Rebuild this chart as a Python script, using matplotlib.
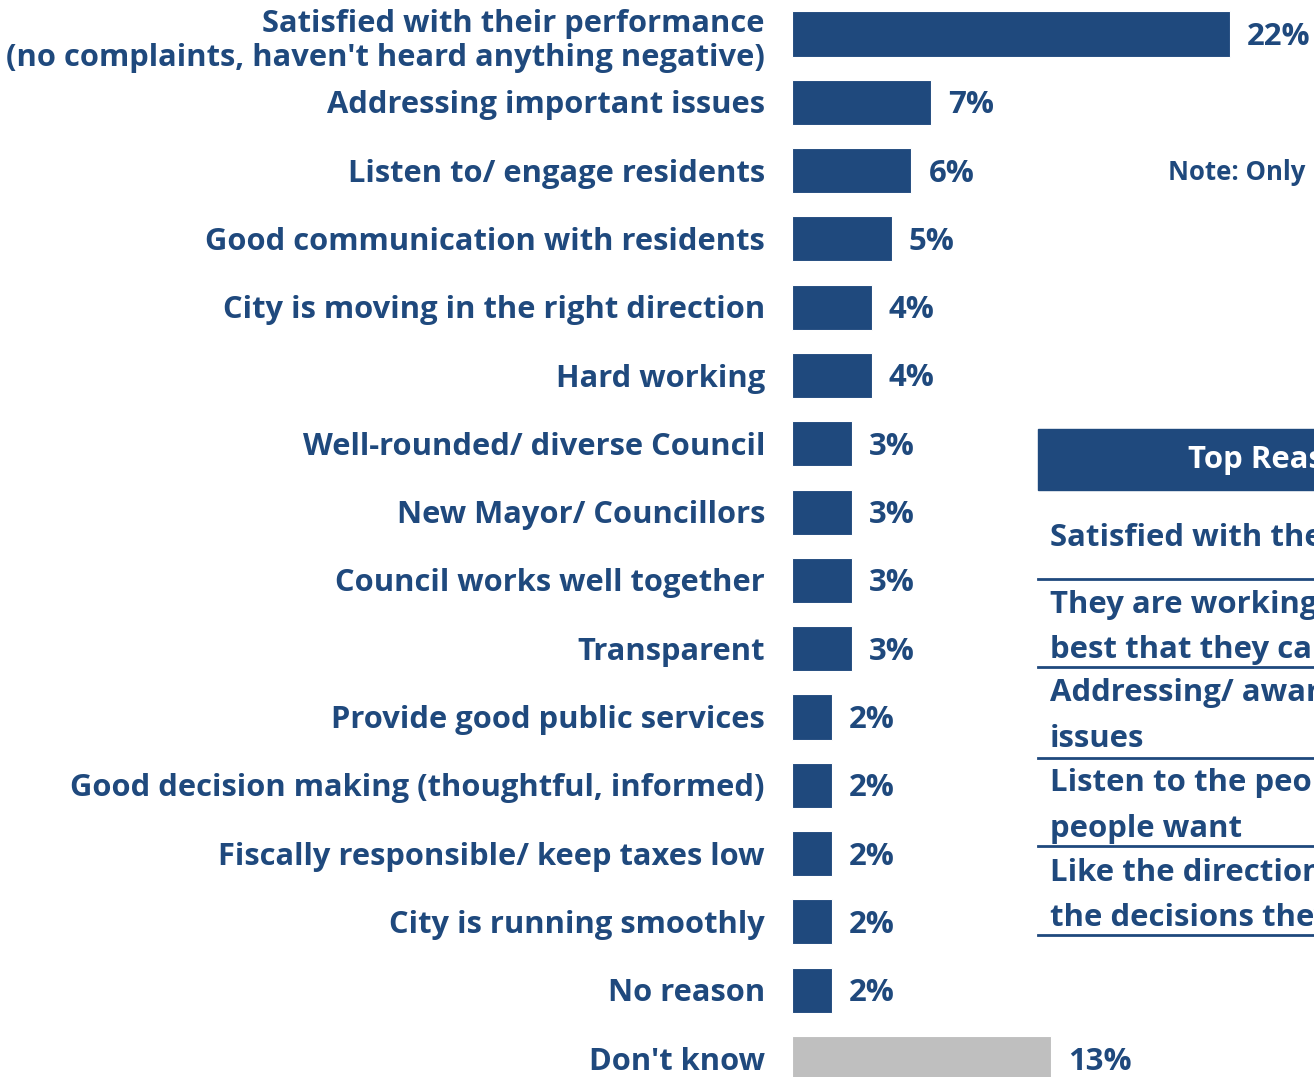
import matplotlib.pyplot as plt
from matplotlib.patches import Rectangle

categories = [
    "Satisfied with their performance\n(no complaints, haven't heard anything negative)",
    "Addressing important issues",
    "Listen to/ engage residents",
    "Good communication with residents",
    "City is moving in the right direction",
    "Hard working",
    "Well-rounded/ diverse Council",
    "New Mayor/ Councillors",
    "Council works well together",
    "Transparent",
    "Provide good public services",
    "Good decision making (thoughtful, informed)",
    "Fiscally responsible/ keep taxes low",
    "City is running smoothly",
    "No reason",
    "Don't know",
]
values = [22, 7, 6, 5, 4, 4, 3, 3, 3, 3, 2, 2, 2, 2, 2, 13]

table_title = "Top Reasons for Satisfaction"
table_rows = [
    ["Satisfied with their performance"],
    ["They are working hard/ doing the", "best that they can"],
    ["Addressing/ aware of important", "issues"],
    ["Listen to the people/ do what", "people want"],
    ["Like the direction/ agree with", "the decisions they make"],
]
note_text = "Note: Only mentions of 2% or more shown"

BLUE = "#1F497D"
GREY = "#BFBFBF"
FONT = "Open Sans"
FS = 22.4

W, H = 1314, 1077
fig = plt.figure(figsize=(W / 100, H / 100), dpi=100)

# bar axes: x=0 at pixel 792, ~19.9 px per percent, rows ~68.3 px apart
row_px = 68.3
x_px = 19.9
left = 792
xmax = 26
n = len(categories)
top_px = 34 - row_px / 2
ax = fig.add_axes([left / W, 1 - (top_px + n * row_px) / H,
                   xmax * x_px / W, n * row_px / H])
ax.set_xlim(0, xmax)
ax.set_ylim(n - 0.5, -0.5)
ax.axis("off")

colors = [BLUE] * (n - 1) + [GREY]
ypos = list(range(n))
ax.barh(ypos, values, height=0.66, color=colors, edgecolor="white", linewidth=0.8)

dy = 3 / row_px  # text sits a touch below bar centre
for y, v, lab in zip(ypos, values, categories):
    ax.text(v + 17 / x_px, y + dy, f"{v}%", va="center", ha="left",
            fontsize=FS, fontweight="bold", color=BLUE, family=FONT)
    ax.text(-27 / x_px, y + dy + (0.06 if "\n" in lab else 0), lab,
            va="center", ha="right", multialignment="right", fontsize=FS - 0.2,
            fontweight="bold", color=BLUE, family=FONT, linespacing=1.2)


def fx(px):
    return px / W


def fy(py):
    return 1 - py / H


fig.text(fx(1168), fy(173), note_text, va="center", ha="left", fontsize=18.5,
         fontweight="bold", color=BLUE, family=FONT)

# summary table on the right
fig.patches.append(Rectangle((fx(1038), fy(490)), fx(600), (490 - 429) / H,
                             transform=fig.transFigure, color=BLUE))
fig.text(fx(1188), fy(460), table_title, va="center", ha="left", fontsize=FS,
         fontweight="bold", color="white", family=FONT)

row_line_y = [[538], [605, 650], [693, 739], [783, 829], [873, 918]]
rule_y = [579, 667, 758, 846, 935]
for lines, ys, ry in zip(table_rows, row_line_y, rule_y):
    for txt, ty in zip(lines, ys):
        fig.text(fx(1050), fy(ty), txt, va="center", ha="left", fontsize=FS,
                 fontweight="bold", color=BLUE, family=FONT)
    fig.add_artist(plt.Line2D([fx(1038), fx(1400)], [fy(ry), fy(ry)],
                              transform=fig.transFigure, color=BLUE, lw=2))

fig.savefig("out.png", dpi=100)
